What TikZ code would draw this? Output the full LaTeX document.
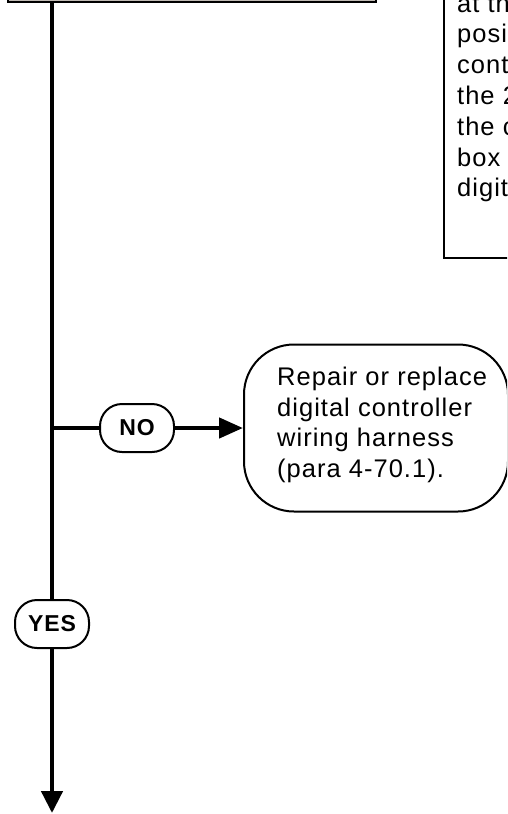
\documentclass[tikz,border=0pt]{standalone}
\usepackage{fontspec}
\newfontfamily\chartfont[LetterSpace=4]{Liberation Sans}
\usetikzlibrary{arrows.meta}

\begin{document}
\begin{tikzpicture}[x=1pt, y=-1pt,
	every node/.style={font=\chartfont\fontsize{25.5pt}{30.5pt}\selectfont},
	box/.style={draw, line width=2pt, fill=white},
	pill/.style={draw, line width=2pt, fill=white, rounded corners=22pt, minimum width=74pt, minimum height=48pt, inner sep=0pt, font=\chartfont\bfseries\fontsize{23pt}{26pt}\selectfont},
	flow/.style={line width=4.5pt},
	>={Triangle[length=24pt, width=20pt]}]
	\useasboundingbox (0,0) rectangle (507,814);
	\clip (0,0) rectangle (507,814);
	% boxes cut off by the page edge
	\node[box, fill={rgb,255:red,192;green,186;blue,180}, anchor=south west, minimum width=368pt, minimum height=80pt] (prev) at (7,3) {};
	\node[box, anchor=south west, minimum width=120pt, minimum height=320pt] (note) at (443,259) {};
	\foreach \txt [count=\i from 0] in {at th, posi, cont, the 2, the c, box, digit}
		\node[anchor=base west, inner sep=0pt] (note\i) at (457,{12+30.8*\i}) {\txt};
	% decision outcomes
	\node[box, rounded corners=50pt, minimum width=264pt, minimum height=167pt] (repair) at (376,428) {};
	\node[anchor=west, align=left, inner sep=0pt, yshift=3pt] (repairtext) at ([xshift=34pt]repair.west) {Repair or replace\\digital controller\\wiring harness\\(para 4-70.1).};
	\node[pill] (no) at (137,428) {NO};
	\node[pill] (yes) at (52,624) {YES};
	\coordinate (branch) at (yes |- no);
	\coordinate (exit) at (52,813);
	\draw[flow] (prev.south -| yes) -- (yes);
	\draw[flow] (branch) -- (no);
	\draw[flow, ->] (no) -- (repair);
	\draw[flow, -{Triangle[length=22pt, width=21pt]}] (yes) -- (exit);
\end{tikzpicture}
\end{document}
